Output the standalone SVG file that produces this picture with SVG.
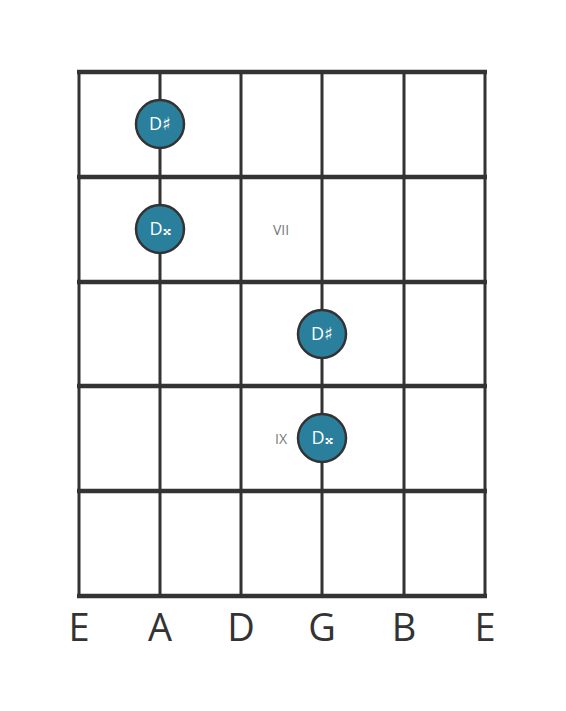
<svg xmlns="http://www.w3.org/2000/svg" width="566" height="711" viewBox="0 0 566 711">
<style>
.str{stroke:#333;stroke-width:3}
.fret{stroke:#333;stroke-width:4.5}
.dot{fill:#2a809c;stroke:#333;stroke-width:2.5}
.nt{fill:#fff;font-family:"Open Sans","DejaVu Sans",sans-serif;font-size:18px;text-anchor:middle}
.pos{fill:#777;font-family:"Open Sans","DejaVu Sans",sans-serif;font-size:14px;text-anchor:middle}
.sl{fill:#333;font-family:"Open Sans","DejaVu Sans",sans-serif;font-size:38px;text-anchor:middle}
</style>
<rect width="566" height="711" fill="#fff"/>
<g id="connectors">
<line class="str" x1="79" y1="72" x2="79" y2="596"/>
<line class="str" x1="160" y1="72" x2="160" y2="596"/>
<line class="str" x1="241" y1="72" x2="241" y2="596"/>
<line class="str" x1="322" y1="72" x2="322" y2="596"/>
<line class="str" x1="404" y1="72" x2="404" y2="596"/>
<line class="str" x1="485" y1="72" x2="485" y2="596"/>
<line class="fret" x1="77" y1="72" x2="487" y2="72"/>
<line class="fret" x1="77" y1="177" x2="487" y2="177"/>
<line class="fret" x1="77" y1="282" x2="487" y2="282"/>
<line class="fret" x1="77" y1="386" x2="487" y2="386"/>
<line class="fret" x1="77" y1="491" x2="487" y2="491"/>
<line class="fret" x1="77" y1="596" x2="487" y2="596"/>
</g>
<g id="pos-vii"><text class="pos" x="281" y="235">VII</text></g>
<g id="pos-ix"><text class="pos" x="281" y="444">IX</text></g>
<g id="n1"><circle class="dot" cx="160" cy="124" r="24"/><text class="nt" x="160" y="130">D♯</text></g>
<g id="n2"><circle class="dot" cx="160" cy="229" r="24"/><text class="nt" x="160" y="235">D𝄪</text></g>
<g id="n3"><circle class="dot" cx="322" cy="334" r="24"/><text class="nt" x="322" y="340">D♯</text></g>
<g id="n4"><circle class="dot" cx="322" cy="438" r="24"/><text class="nt" x="322" y="444">D𝄪</text></g>
<g id="labels">
<text class="sl" x="79" y="641">E</text>
<text class="sl" x="160" y="641">A</text>
<text class="sl" x="241" y="641">D</text>
<text class="sl" x="322" y="641">G</text>
<text class="sl" x="404" y="641">B</text>
<text class="sl" x="485" y="641">E</text>
</g>
</svg>
